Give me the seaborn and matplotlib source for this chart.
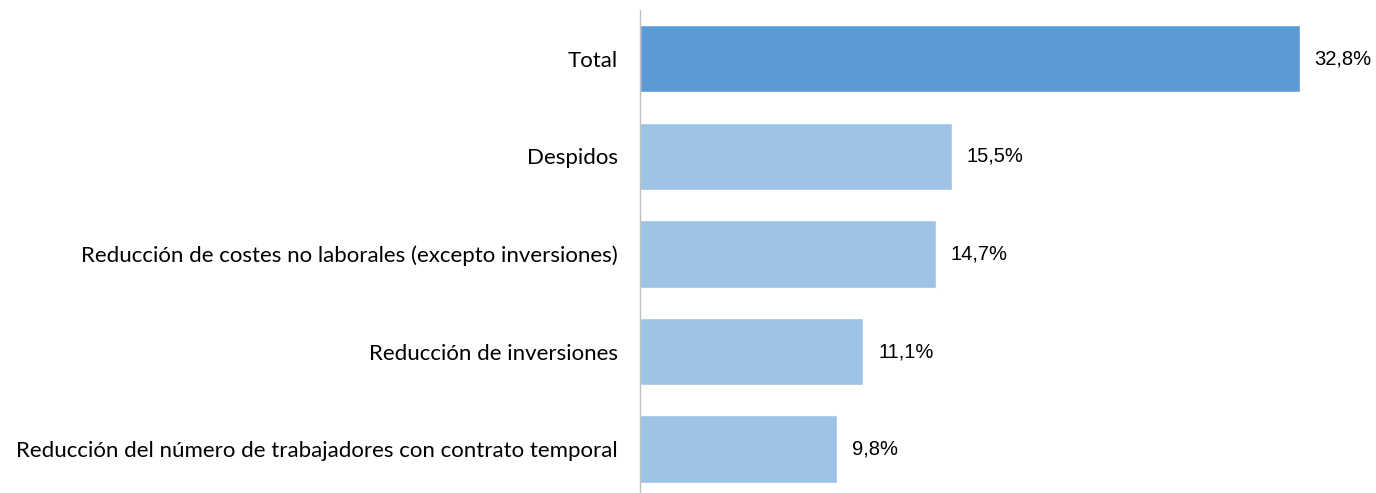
import matplotlib
matplotlib.use('Agg')
import matplotlib.pyplot as plt
import seaborn as sns
import pandas as pd

# Chart data
categories = [
    'Total',
    'Despidos',
    'Reducción de costes no laborales (excepto inversiones)',
    'Reducción de inversiones',
    'Reducción del número de trabajadores con contrato temporal',
]
values = [32.8, 15.5, 14.7, 11.1, 9.8]
value_labels = ['32,8%', '15,5%', '14,7%', '11,1%', '9,8%']
bar_colors = ['#5B9BD5', '#9DC3E6', '#9DC3E6', '#9DC3E6', '#9DC3E6']

df = pd.DataFrame({'categoria': categories, 'valor': values})

sns.set_style('white')
plt.rcParams['font.family'] = ['Lato', 'DejaVu Sans']

fig = plt.figure(figsize=(13.76, 4.93), dpi=100)
ax = fig.add_axes([640 / 1376, 0.0, 736 / 1376, 483 / 493])

sns.barplot(data=df, x='valor', y='categoria', hue='categoria', palette=bar_colors,
            legend=False, width=0.69, ax=ax, saturation=1)

# Value labels at the end of each bar
for i, (v, lab) in enumerate(zip(values, value_labels)):
    ax.text(v + 0.75, i, lab, va='center', ha='left', fontsize=14.5,
            family='Liberation Sans', color='#000000')

ax.set_xlim(0, 36.6)
ax.set_ylim(4.45, -0.5)
ax.set_xlabel('')
ax.set_ylabel('')
ax.set_xticks([])
ax.tick_params(axis='y', length=0, pad=16, labelsize=16, labelcolor='#000000')

for side in ['top', 'right', 'bottom']:
    ax.spines[side].set_visible(False)
ax.spines['left'].set_color('#BFBFBF')
ax.spines['left'].set_linewidth(1)

fig.savefig('out.png', dpi=100)
